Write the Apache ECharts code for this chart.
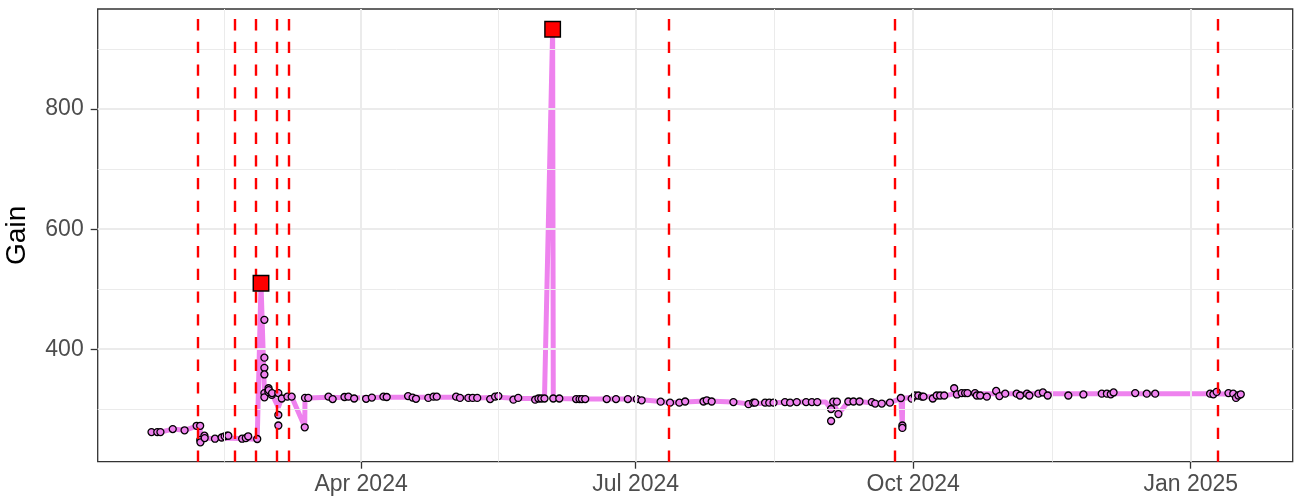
<!DOCTYPE html>
<html>
<head>
<meta charset="utf-8">
<script src="https://cdn.jsdelivr.net/npm/echarts@6/dist/echarts.min.js"></script>
<style>
html,body{margin:0;padding:0;background:#fff;}
#chart{width:1294px;height:499px;}
</style>
</head>
<body>
<div id="chart"></div>
<script>
// ---------- data ----------
const pointDates = [
 '2024-01-22 13:00','2024-01-24 11:00','2024-01-25 12:00','2024-01-29 14:00','2024-02-02 12:00',
 '2024-02-06 12:00','2024-02-07 16:00','2024-02-07 17:00','2024-02-07 18:00','2024-02-09 02:00',
 '2024-02-09 04:00','2024-02-12 14:00','2024-02-14 19:00','2024-02-15 19:00','2024-02-16 14:00',
 '2024-02-17 00:00','2024-02-21 14:00','2024-02-22 19:00','2024-02-23 14:00','2024-02-26 14:00',
 '2024-02-28 23:00','2024-02-28 23:00','2024-02-28 23:00','2024-02-28 23:00','2024-02-28 23:00','2024-02-28 23:00',
 '2024-03-01 08:00','2024-03-01 06:00','2024-03-01 10:00','2024-03-02 10:00','2024-03-02 12:00',
 '2024-03-04 14:00','2024-03-04 14:00','2024-03-04 14:00','2024-03-05 17:00','2024-03-07 14:00',
 '2024-03-09 00:00','2024-03-13 08:00','2024-03-13 10:00','2024-03-14 12:00','2024-03-21 05:00',
 '2024-03-22 14:00','2024-03-26 12:00','2024-03-27 19:00','2024-03-29 17:00','2024-04-02 16:00',
 '2024-04-04 14:00','2024-04-08 10:00','2024-04-09 12:00','2024-04-16 14:00','2024-04-18 02:00',
 '2024-04-19 05:00','2024-04-23 07:00','2024-04-25 00:00','2024-04-26 02:00','2024-05-02 12:00',
 '2024-05-03 19:00','2024-05-06 14:00','2024-05-08 00:00','2024-05-09 12:00','2024-05-13 19:00',
 '2024-05-15 10:00','2024-05-16 12:00','2024-05-21 12:00','2024-05-23 02:00','2024-05-28 17:00',
 '2024-05-29 19:00','2024-05-30 17:00','2024-05-31 19:00','2024-06-03 17:00','2024-06-05 17:00',
 '2024-06-11 07:00','2024-06-12 10:00','2024-06-13 05:00','2024-06-14 07:00','2024-06-21 10:00',
 '2024-06-24 12:00','2024-06-28 10:00','2024-07-01 10:00','2024-07-03 00:00','2024-07-09 07:00',
 '2024-07-12 10:00','2024-07-15 12:00','2024-07-17 10:00','2024-07-23 12:00','2024-07-24 14:00',
 '2024-07-26 05:00','2024-08-02 10:00','2024-08-07 10:00','2024-08-09 00:00','2024-08-09 14:00',
 '2024-08-12 22:00','2024-08-14 07:00','2024-08-15 17:00','2024-08-19 12:00','2024-08-21 05:00',
 '2024-08-23 10:00','2024-08-26 12:00','2024-08-28 10:00','2024-08-30 05:00','2024-09-03 19:00',
 '2024-09-03 19:00','2024-09-04 12:00','2024-09-05 17:00','2024-09-06 05:00','2024-09-09 12:00',
 '2024-09-11 05:00','2024-09-13 05:00','2024-09-17 07:00','2024-09-18 10:00','2024-09-20 14:00',
 '2024-09-23 07:00','2024-09-26 22:00','2024-09-27 10:00','2024-09-27 10:00','2024-09-30 12:00',
 '2024-10-01 14:00','2024-10-02 17:00','2024-10-03 22:00','2024-10-04 10:00','2024-10-07 12:00',
 '2024-10-08 19:00','2024-10-09 22:00','2024-10-11 07:00','2024-10-14 14:00','2024-10-15 12:00',
 '2024-10-17 02:00','2024-10-18 05:00','2024-10-19 00:00','2024-10-21 12:00','2024-10-22 02:00',
 '2024-10-23 05:00','2024-10-25 10:00','2024-10-28 12:00','2024-10-29 14:00','2024-10-31 12:00',
 '2024-11-04 07:00','2024-11-05 10:00','2024-11-07 17:00','2024-11-08 12:00','2024-11-11 12:00',
 '2024-11-13 00:00','2024-11-14 14:00','2024-11-21 10:00','2024-11-26 10:00','2024-12-02 12:00',
 '2024-12-04 05:00','2024-12-05 12:00','2024-12-06 10:00','2024-12-13 14:00','2024-12-17 10:00',
 '2024-12-20 05:00','2025-01-07 10:00','2025-01-08 12:00','2025-01-09 14:00','2025-01-13 12:00',
 '2025-01-15 02:00','2025-01-16 00:00','2025-01-16 19:00','2025-01-17 14:00'
];
const pointValues = [
 262,262,262,267,265,
 272.5,272.5,249,245,256,
 252,251,253,255,256,
 256,251,252,255,250.5,
 449,386,369,358,327,320,
 335,329,332,324,327,
 327,290.5,273,318,321,
 321,270,319,319,321,
 317,320.5,321,318,317.5,
 319.5,321,320.5,322,319.5,
 317.5,319,321,321,321,
 319,319,319,319,317,
 321,322,316,319,316,
 318,318,318,318,318,
 317,317,317,317,317,
 317,317,317,315,312.7,
 311,311,313,313,315,
 313,312,308.5,311,311,
 311,311,311,312,311,
 312,312,312,312,300.5,
 280.5,312.7,312.7,292,313,
 313,313,312,309.5,309.5,
 311,318.8,273,269,317.7,
 323,323,321,321,318,
 323,323,323,335,324.7,
 327,327,327,327,323,
 323,321,330.5,322,326,
 326,323,326,323,326,
 328,323,323,324.7,326,
 326,325,328,327,326,
 326,326,325,329,327,
 326,319,323,325
];
const lineDates = [
 '2024-01-22 13:00','2024-01-25 12:00','2024-01-29 14:00','2024-02-02 12:00','2024-02-06 12:00',
 '2024-02-07 16:00','2024-02-07 18:00','2024-02-09 00:00','2024-02-12 12:00','2024-02-16 12:00',
 '2024-02-22 12:00','2024-02-26 14:00','2024-02-27 20:00','2024-02-28 23:00','2024-03-01 08:00',
 '2024-03-02 10:00','2024-03-04 14:00','2024-03-05 17:00','2024-03-07 14:00','2024-03-09 00:00',
 '2024-03-13 08:00','2024-03-13 10:00','2024-03-14 12:00','2024-03-21 05:00','2024-03-29 17:00',
 '2024-04-08 10:00','2024-04-16 14:00','2024-04-26 00:00','2024-05-02 12:00','2024-05-09 12:00',
 '2024-05-16 12:00','2024-05-23 00:00','2024-05-31 19:00','2024-06-03 12:00','2024-06-03 17:00',
 '2024-06-14 00:00','2024-06-28 00:00','2024-07-03 00:00','2024-07-09 07:00','2024-07-12 10:00',
 '2024-07-17 00:00','2024-07-24 14:00','2024-08-02 10:00','2024-08-07 10:00','2024-08-15 17:00',
 '2024-08-23 00:00','2024-09-02 00:00','2024-09-03 19:00','2024-09-04 12:00','2024-09-06 05:00',
 '2024-09-09 12:00','2024-09-13 05:00','2024-09-18 10:00','2024-09-23 07:00','2024-09-26 22:00',
 '2024-09-27 10:00','2024-09-27 12:00','2024-10-01 14:00','2024-10-07 12:00','2024-10-11 07:00',
 '2024-10-14 14:00','2024-10-20 00:00','2024-11-01 00:00','2024-11-15 00:00','2024-12-06 00:00',
 '2024-12-20 05:00','2025-01-07 10:00','2025-01-17 14:00'
];
const lineValues = [
 262,262,267,265,272,
 272,249,252,251,252,
 251,250,510,328,331,
 326,303,319,321,321,
 271,319,319,320,319,
 320,320,320,320,319,
 320,318,318,933,318,
 317,317,316,313,311,
 312,314,312,309,311,
 312,312,300,312,292,
 313,313,310,311,318,
 271,318,321,321,322,
 326,326,326,326,326,
 326,326,325
];
const flagDates = ['2024-02-27 20:00','2024-06-03 12:00'];
const flagValues = [510, 933];
const eventDates = ['2024-02-07','2024-02-19','2024-02-26','2024-03-04','2024-03-08','2024-07-12','2024-09-25','2025-01-10'];
const xTickDates = ['2024-04-01','2024-07-01','2024-10-01','2025-01-01'];
const xTickLabels = ['Apr 2024','Jul 2024','Oct 2024','Jan 2025'];
const xMinorDates = ['2024-02-15 12:00','2024-05-16 12:00','2024-08-16 00:00','2024-11-16 00:00'];
const yTicks = [400, 600, 800];
const yMinor = [300, 500, 700, 900];
const xRange = ['2024-01-04 17:00','2025-02-03 19:00'];
const yRange = [212.7, 966.7];
const yTitle = 'Gain';

// ---------- helpers ----------
function ts(s){ return new Date(s.length === 10 ? s + 'T00:00' : s.replace(' ', 'T')).getTime(); }
const xTickTimes = xTickDates.map(ts);

const chart = echarts.init(document.getElementById('chart'), null, {renderer:'canvas'});
const FONT = 'Liberation Sans, Arial, Helvetica, sans-serif';

const gridLines = [];
yMinor.forEach(v => gridLines.push({yAxis: v, lineStyle:{color:'#ebebeb', width:1, type:'solid'}}));
xMinorDates.forEach(d => gridLines.push({xAxis: ts(d), lineStyle:{color:'#ebebeb', width:1, type:'solid'}}));
yTicks.forEach(v => gridLines.push({yAxis: v, lineStyle:{color:'#ebebeb', width:2, type:'solid'}}));
xTickTimes.forEach(t => gridLines.push({xAxis: t, lineStyle:{color:'#ebebeb', width:2, type:'solid'}}));

const eventLines = eventDates.map(d => ({xAxis: ts(d)}));

const option = {
  animation: false,
  backgroundColor: '#ffffff',
  grid: {
    left: 97.7, top: 9, right: 1.3, bottom: 37.3,
    show: true, borderColor: '#333333', borderWidth: 1.3, backgroundColor: '#ffffff',
    outerBoundsMode: 'none', containLabel: false
  },
  xAxis: {
    type: 'value',
    min: ts(xRange[0]), max: ts(xRange[1]),
    axisLine: {show: false},
    splitLine: {show: false},
    minorSplitLine: {show: false},
    axisTick: {show: true, customValues: xTickTimes, length: 7, lineStyle: {color: '#333333', width: 1.3}},
    axisLabel: {
      customValues: xTickTimes,
      formatter: function(v){ const i = xTickTimes.indexOf(v); return i >= 0 ? xTickLabels[i] : ''; },
      color: '#4d4d4d', fontSize: 23, fontFamily: FONT, margin: 11
    }
  },
  yAxis: {
    type: 'value',
    min: yRange[0], max: yRange[1],
    axisLine: {show: false},
    splitLine: {show: false},
    axisTick: {show: true, customValues: yTicks, length: 7, lineStyle: {color: '#333333', width: 1.3}},
    axisLabel: {customValues: yTicks, color: '#4d4d4d', fontSize: 23, fontFamily: FONT, margin: 14},
    name: yTitle, nameLocation: 'middle', nameGap: 66, nameRotate: 90,
    nameTextStyle: {color: '#000000', fontSize: 28, fontFamily: FONT}
  },
  series: [
    {
      type: 'line', data: [], z: 0, silent: true,
      markLine: {silent: true, symbol: ['none','none'], label: {show: false}, animation: false, data: gridLines}
    },
    {
      type: 'line', z: 2, silent: true,
      data: lineDates.map((d, i) => [ts(d), lineValues[i]]),
      showSymbol: false, symbol: 'none',
      lineStyle: {color: '#EE82EE', width: 5}
    },
    {
      type: 'scatter', z: 3, silent: true,
      data: pointDates.map((d, i) => [ts(d), pointValues[i]]),
      symbol: 'circle', symbolSize: 7,
      itemStyle: {color: '#EE82EE', borderColor: '#000000', borderWidth: 1.3, opacity: 1}
    },
    {
      type: 'line', data: [], z: 4, silent: true,
      markLine: {silent: true, symbol: ['none','none'], label: {show: false}, animation: false,
        lineStyle: {color: '#ff0000', width: 2.4, type: [11.3, 11.4]},
        data: eventLines}
    },
    {
      type: 'scatter', z: 5, silent: true,
      data: flagDates.map((d, i) => [ts(d), flagValues[i]]),
      symbol: 'rect', symbolSize: 15.5,
      itemStyle: {color: '#ff0000', borderColor: '#000000', borderWidth: 1.4, opacity: 1}
    }
  ]
};
chart.setOption(option);
</script>
</body>
</html>
